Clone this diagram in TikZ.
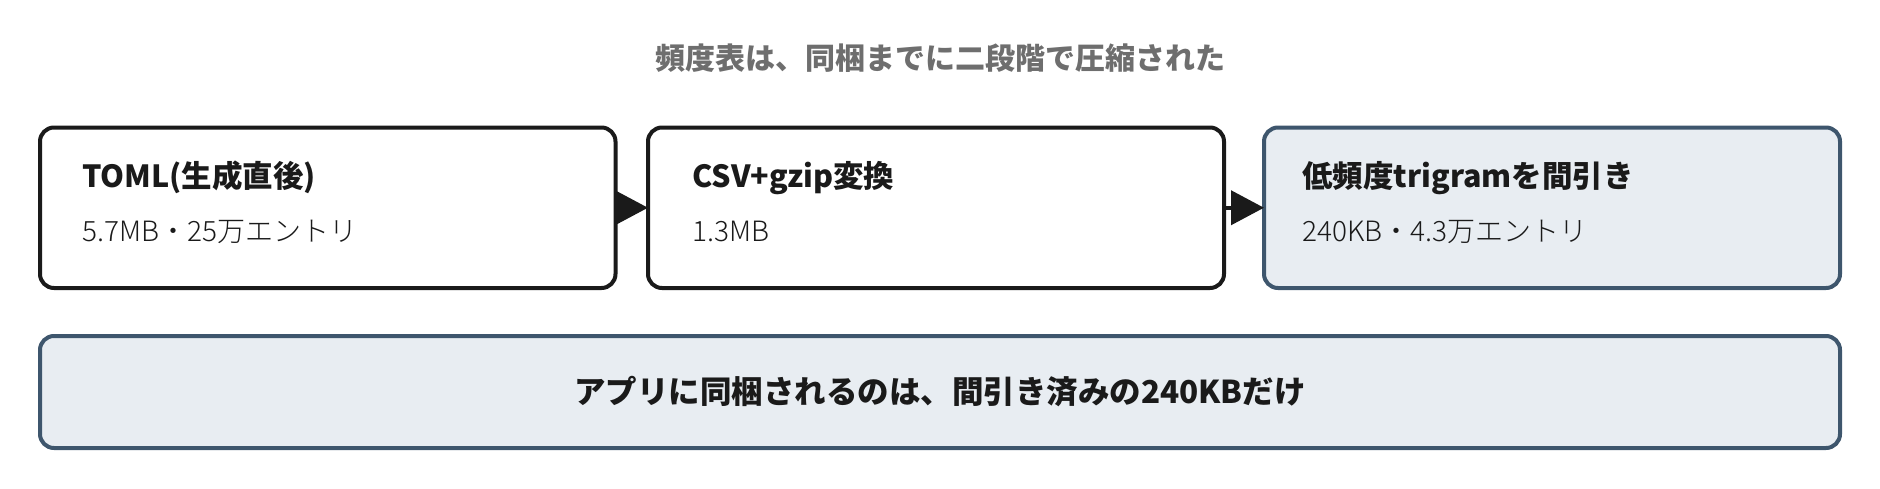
\documentclass[tikz,border=0pt]{standalone}
\usepackage{fontspec}
\setmainfont{Noto Sans CJK JP}
\newfontfamily\lightfont{Noto Sans CJK JP Light}
\usetikzlibrary{arrows.meta}
\definecolor{ink}{HTML}{1A1A1A}
\definecolor{titlegray}{HTML}{6E6E6E}
\definecolor{slate}{HTML}{3E566D}
\definecolor{pale}{HTML}{E8EDF2}
\tikzset{
  box/.style={draw=ink, fill=white, line width=4pt, rounded corners=14pt, outer sep=0pt, inner sep=0pt, anchor=north west},
  hibox/.style={box, draw=slate, fill=pale},
  head/.style={font=\fontsize{30.5}{36}\selectfont\bfseries, text=ink, anchor=base west, inner sep=0pt},
  sub/.style={font=\lightfont\fontsize{28}{34}\selectfont, text=ink, anchor=base west, inner sep=0pt},
  flow/.style={draw=ink, line width=4pt, -{Triangle[length=33pt,width=34pt]}},
}
\begin{document}
\begin{tikzpicture}[x=1pt,y=-1pt]
\useasboundingbox (0,0) rectangle (1880,488);
\node[font=\fontsize{30}{36}\selectfont\bfseries, text=titlegray, inner sep=0pt] (title) at (940,58) {頻度表は、同梱までに二段階で圧縮された};
\node[box, minimum width=575.5pt, minimum height=160.5pt] (b1) at (40,127.5) {};
\node[box, minimum width=576pt, minimum height=160.5pt] (b2) at (648,127.5) {};
\node[hibox, minimum width=576pt, minimum height=160.5pt] (b3) at (1264,127.5) {};
\node[hibox, minimum width=1800pt, minimum height=112pt] (b4) at (40,336) {};
\node[head] (h1) at (82,187) {TOML(生成直後)};
\node[sub] (s1) at (82,241) {5.7MB・25万エントリ};
\node[head] (h2) at (692,187) {CSV+gzip変換};
\node[sub] (s2) at (692,241) {1.3MB};
\node[head] (h3) at (1302,187) {低頻度trigramを間引き};
\node[sub] (s3) at (1302,241) {240KB・4.3万エントリ};
\node[font=\fontsize{31.5}{38}\selectfont\bfseries, text=ink, inner sep=0pt] (t4) at (b4.center) {アプリに同梱されるのは、間引き済みの240KBだけ};
\draw[flow] (b1.east) -- (b2.west);
\draw[flow] (b2.east) -- (b3.west);
\end{tikzpicture}
\end{document}
